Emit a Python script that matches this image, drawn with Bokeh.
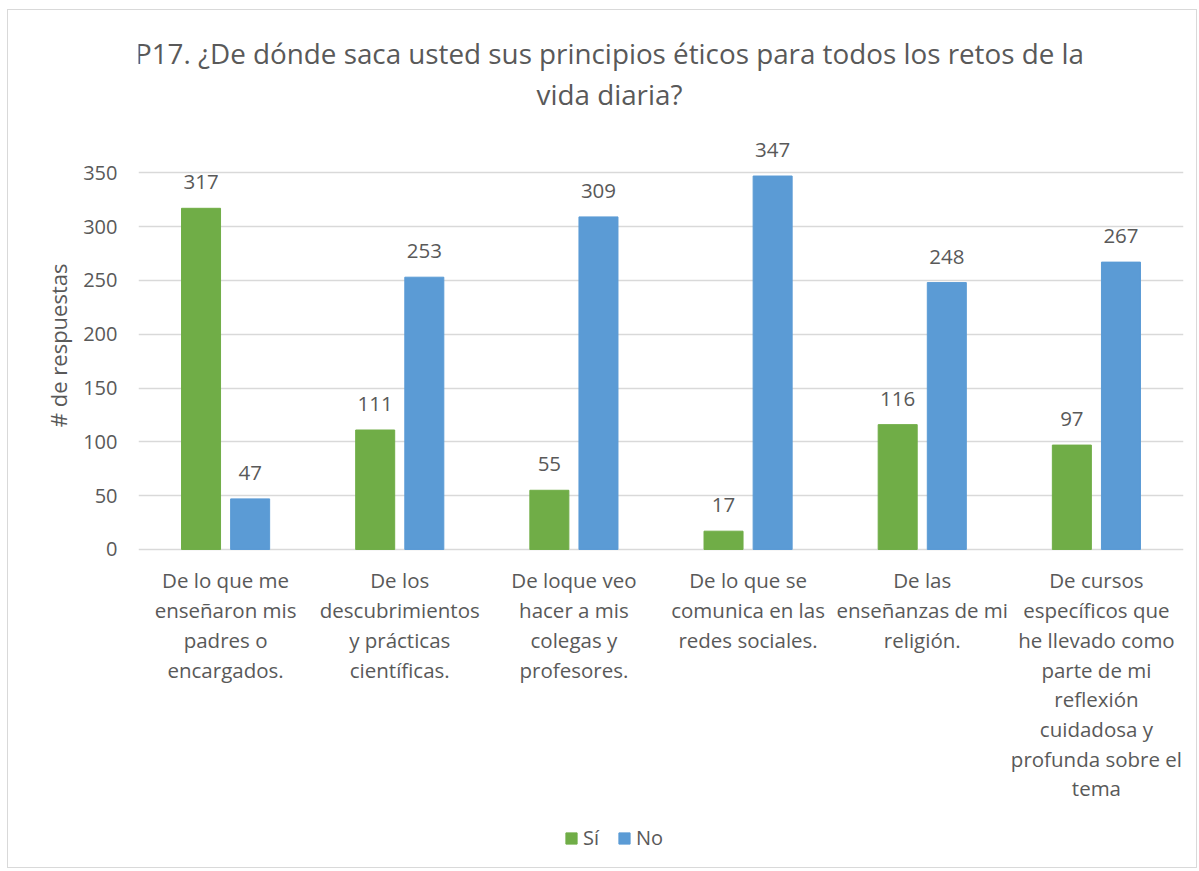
from bokeh.plotting import figure
from bokeh.models import (ColumnDataSource, FactorRange, Range1d, FixedTicker, Label,
                          Legend, LegendItem, Title)
from bokeh.transform import dodge
from bokeh.core.properties import value
from bokeh.embed import file_html
from bokeh.resources import INLINE

categories = [
    "De lo que me\nenseñaron mis\npadres o\nencargados.",
    "De los\ndescubrimientos\ny prácticas\ncientíficas.",
    "De loque veo\nhacer a mis\ncolegas y\nprofesores.",
    "De lo que se\ncomunica en las\nredes sociales.",
    "De las\nenseñanzas de mi\nreligión.",
    "De cursos\nespecíficos que\nhe llevado como\nparte de mi\nreflexión\ncuidadosa y\nprofunda sobre el\ntema",
]
si_values = [317, 111, 55, 17, 116, 97]
no_values = [47, 253, 309, 347, 248, 267]
y_ticks = [0, 50, 100, 150, 200, 250, 300, 350]
series_names = ["Sí", "No"]
title_lines = ["P17. ¿De dónde saca usted sus principios éticos para todos los retos de la",
               "vida diaria?"]
y_label = "# de respuestas"

GREEN = "#70AD47"
BLUE = "#5B9BD5"
TXT = "#595959"
GRID = "#D9D9D9"
FONT = "Open Sans"

src = ColumnDataSource(dict(
    cat=categories, si=si_values, no=no_values, zero=[0] * len(categories),
    si_txt=[str(v) for v in si_values], no_txt=[str(v) for v in no_values],
))

# The frame spans from the top of the canvas down to the legend, so that the
# title, category labels and legend stay inside it; the value axis only shows 0..350.
p = figure(width=1190, height=859, x_range=FactorRange(*categories),
           y_range=Range1d(-289, 500.8), output_backend="svg", toolbar_location=None,
           min_border_left=130, min_border_right=15, min_border_top=0,
           min_border_bottom=9, title=None)
p.styles = {"border": "1px solid #D9D9D9", "margin-left": "7px", "margin-top": "9px"}
p.outline_line_color = None
p.background_fill_color = "white"
p.border_fill_color = "white"

bw = 0.224
off = 0.141
r_si = p.vbar(x=dodge("cat", -off, range=p.x_range), top="si", width=bw, source=src,
              fill_color=GREEN, line_color=GREEN)
r_no = p.vbar(x=dodge("cat", off, range=p.x_range), top="no", width=bw, source=src,
              fill_color=BLUE, line_color=BLUE)

for col, txt, o in (("si", "si_txt", -off), ("no", "no_txt", off)):
    p.text(x=dodge("cat", o, range=p.x_range), y=col, text=txt, source=src,
           text_align="center", text_baseline="alphabetic", y_offset=-26,
           text_font=value(FONT), text_font_size="20.5px", text_color=TXT)

# category labels under the zero line
p.text(x="cat", y="zero", text="cat", source=src, text_align="center",
       text_baseline="top", y_offset=17, text_line_height=1.06,
       text_font=value(FONT), text_font_size="20.5px", text_color=TXT)

# axes
p.xaxis.visible = False
p.yaxis.ticker = FixedTicker(ticks=y_ticks)
p.yaxis.axis_line_color = None
p.yaxis.major_tick_line_color = None
p.yaxis.minor_tick_line_color = None
p.yaxis.major_label_text_font = FONT
p.yaxis.major_label_text_font_size = "20px"
p.yaxis.major_label_text_color = TXT
p.yaxis.major_label_standoff = 15

# value-axis title, placed in a side panel next to the axis
p.add_layout(Title(text=y_label, align="right", offset=253, vertical_align="bottom",
                   standoff=16, text_font=FONT, text_font_size="22px",
                   text_font_style="normal", text_color=TXT), "left")

p.xgrid.grid_line_color = None
p.ygrid.ticker = FixedTicker(ticks=y_ticks)
p.ygrid.grid_line_color = GRID
p.ygrid.grid_line_width = 1.5

# chart title (screen units are measured from the frame's bottom-left corner)
for i, line in enumerate(title_lines):
    p.add_layout(Label(x=471, y=808 - 41 * i, x_units="screen", y_units="screen",
                       text=line, text_align="center", text_baseline="middle",
                       text_font=FONT, text_font_size="27.8px", text_color=TXT))

legend = Legend(items=[LegendItem(label=series_names[0], renderers=[r_si]),
                       LegendItem(label=series_names[1], renderers=[r_no])],
                orientation="horizontal", location=(426, 9),
                glyph_width=14, glyph_height=14, label_height=14,
                label_text_font=FONT, label_text_font_size="20px",
                label_text_color=TXT, label_standoff=5, spacing=14,
                padding=0, margin=0, border_line_color=None,
                background_fill_alpha=0)
p.add_layout(legend, "center")

open("out.html", "w").write(file_html(p, INLINE))
